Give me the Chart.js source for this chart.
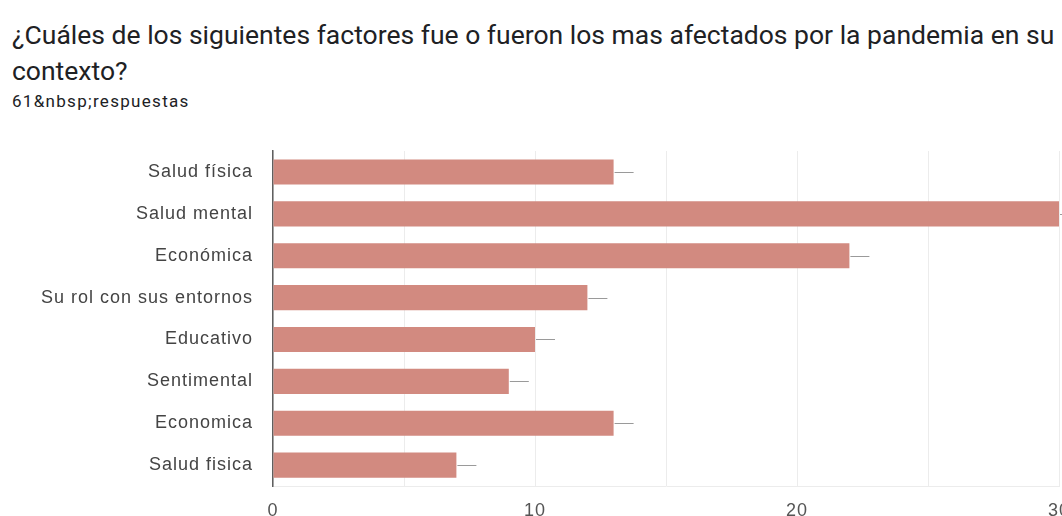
<!DOCTYPE html>
<html>
<head>
<meta charset="utf-8">
<script src="https://cdn.jsdelivr.net/npm/chart.js@4"></script>
<style>
  html, body { margin: 0; padding: 0; background: #fff; overflow: hidden; width: 1062px; height: 516px; }
  .title { position: absolute; left: 12px; top: 17px; width: 1100px; font-family: Roboto, "Noto Sans", sans-serif; font-size: 26.5px; line-height: 36px; color: #202124; white-space: nowrap; }
  .sub { position: absolute; left: 12px; top: 91px; font-family: Roboto, "Noto Sans", sans-serif; font-size: 17px; line-height: 20px; letter-spacing: 1.3px; color: #202124; }
  .wrap { position: absolute; left: 0; top: 130px; width: 1062px; height: 386px; }
</style>
</head>
<body>
<div class="title">¿Cuáles de los siguientes factores fue o fueron los mas afectados por la pandemia en su<br>contexto?</div>
<div class="sub">61&amp;nbsp;respuestas</div>
<div class="wrap"><canvas id="c"></canvas></div>
<script>
const categories = ['Salud física', 'Salud mental', 'Económica', 'Su rol con sus entornos', 'Educativo', 'Sentimental', 'Economica', 'Salud fisica'];
const responses = [13, 30, 22, 12, 10, 9, 13, 7];
const axisMax = 30;
const labelStep = 10;

// slightly tracked axis text
const trackingPlugin = {
  id: 'tracking',
  beforeDraw(chart) { chart.ctx.letterSpacing = '1px'; }
};

// short grey stub drawn to the right of every bar
const stubPlugin = {
  id: 'stubs',
  afterDatasetsDraw(chart) {
    const ctx = chart.ctx;
    ctx.save();
    ctx.strokeStyle = '#9a9a9a';
    ctx.lineWidth = 1;
    chart.getDatasetMeta(0).data.forEach(bar => {
      ctx.beginPath();
      ctx.moveTo(bar.x + 1, Math.round(bar.y) + 0.5);
      ctx.lineTo(bar.x + 20, Math.round(bar.y) + 0.5);
      ctx.stroke();
    });
    ctx.restore();
  }
};

const labelFont = { family: '"Liberation Sans", Arial, sans-serif', size: 18 };

new Chart(document.getElementById('c'), {
  type: 'bar',
  data: {
    labels: categories,
    datasets: [{
      data: responses,
      backgroundColor: '#d28a80',
      borderWidth: 0,
      categoryPercentage: 1,
      barPercentage: 0.6
    }]
  },
  options: {
    indexAxis: 'y',
    responsive: true,
    maintainAspectRatio: false,
    animation: false,
    layout: { padding: { top: 21, bottom: 0, left: 0, right: 3 } },
    plugins: { legend: { display: false }, tooltip: { enabled: false } },
    scales: {
      x: {
        min: 0,
        max: axisMax,
        afterFit(s) { s.height = 30; s.paddingLeft = 0; s.paddingRight = 0; },
        ticks: {
          stepSize: 5,
          autoSkip: false,
          maxRotation: 0,
          padding: 14,
          color: '#555',
          font: labelFont,
          callback: v => (v % labelStep === 0 ? String(v) : '')
        },
        grid: { color: '#ececec', drawTicks: false },
        border: { display: true, color: '#ececec' }
      },
      y: {
        afterFit(s) { s.width = 273; s.paddingTop = 0; s.paddingBottom = 0; },
        ticks: {
          padding: 20,
          color: '#444',
          font: labelFont
        },
        grid: { display: false, drawTicks: false },
        border: { display: true, color: '#5f5f5f', width: 1.5 }
      }
    }
  },
  plugins: [trackingPlugin, stubPlugin]
});
</script>
</body>
</html>
